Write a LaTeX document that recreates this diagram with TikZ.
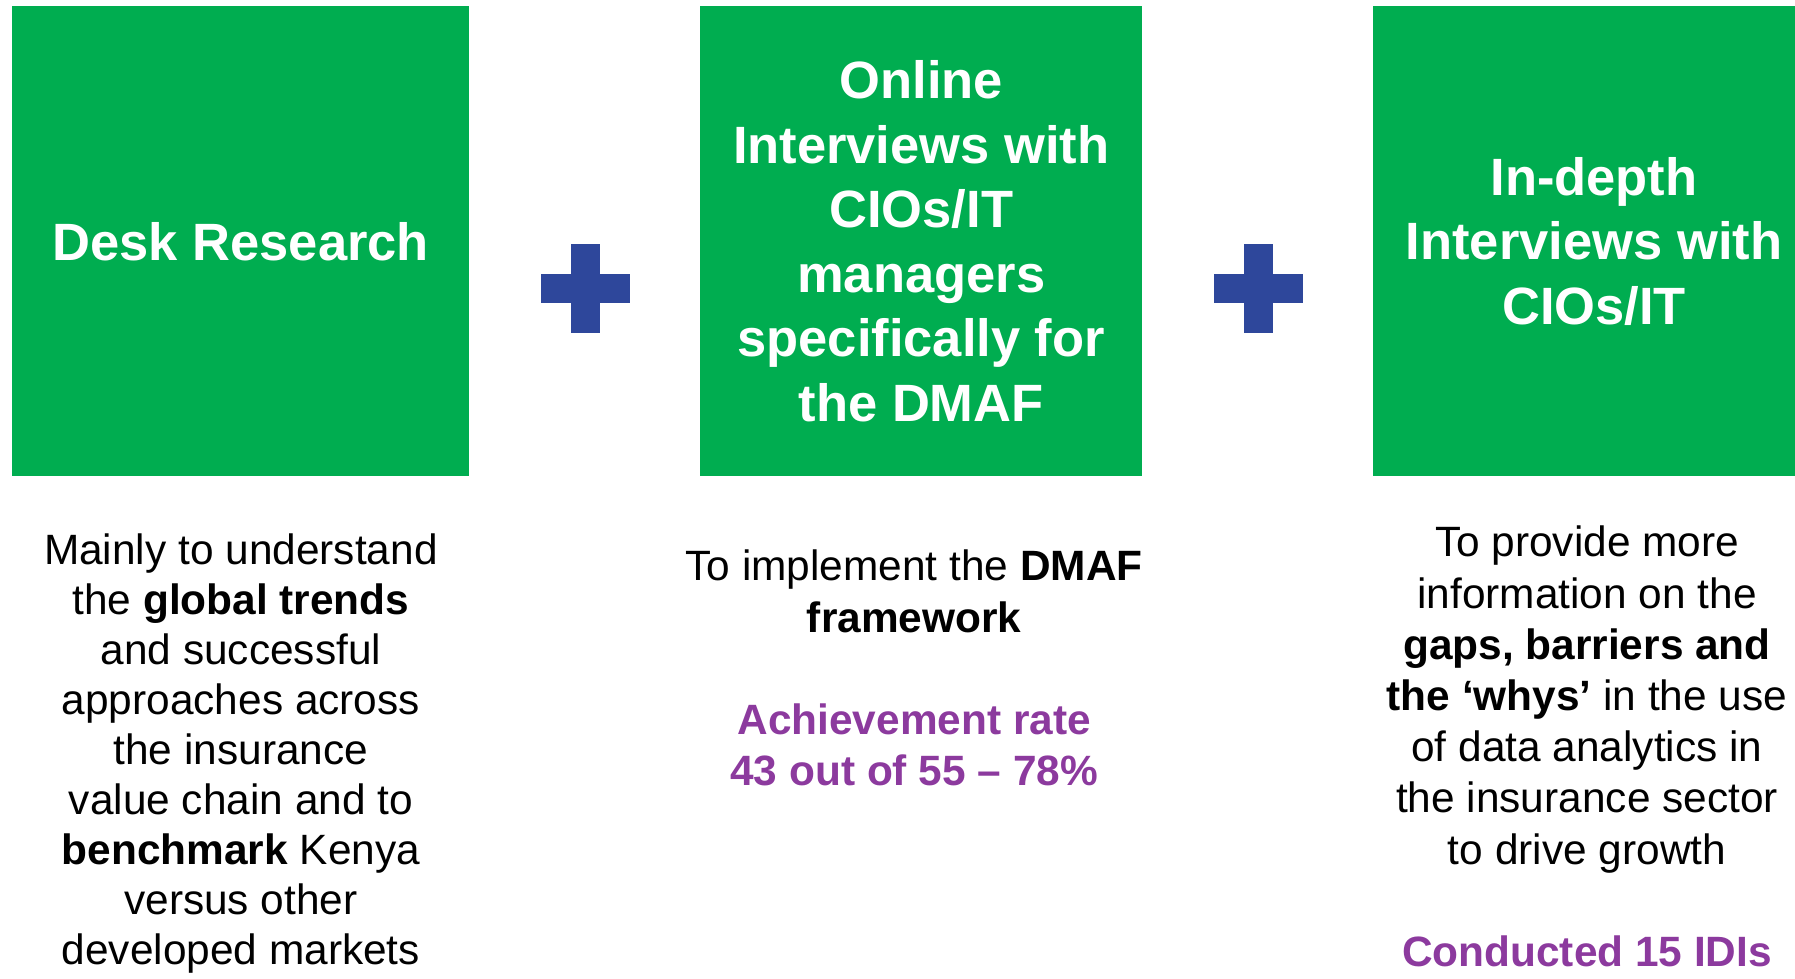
\documentclass[tikz,border=0pt]{standalone}
\usepackage{fontspec}
\setmainfont{Liberation Sans}
\usetikzlibrary{positioning}
\definecolor{boxgreen}{HTML}{00AD50}
\definecolor{plusblue}{HTML}{2E479B}
\definecolor{notepurple}{HTML}{8C3A9E}
\newcommand{\hilite}[1]{\textcolor{notepurple}{\textbf{#1}}}

\begin{document}
\begin{tikzpicture}[x = 0.5pt, y = -0.5pt]
     \tikzset{method/.style = {fill          = boxgreen,
                               text          = white,
                               align         = center,
                               inner sep     = 0pt,
                               minimum width = 221pt,
                               minimum height= 235pt,
                               font          = {\fontsize{26.25}{32.25}\selectfont\bfseries}},
              note/.style   = {align     = center,
                               inner sep = 0pt,
                               font      = {\fontsize{21.2}{25.6}\selectfont}},
              hbar/.style   = {fill=plusblue, inner sep=0pt,
                               minimum width=44.5pt, minimum height=14.5pt},
              vbar/.style   = {fill=plusblue, inner sep=0pt,
                               minimum width=14.5pt, minimum height=44.5pt}}
     \useasboundingbox (0,0) rectangle (1795,979);
     \clip (0,0) rectangle (1795,979);
     \node[method, minimum width=228.5pt, anchor=north west] (desk) at (12,6) {Desk Research};
     \node[method, right=115pt of desk] (online)
          {Online\\ Interviews with\\ CIOs/IT\\ managers\\ specifically for\\ the DMAF};
     \node[method, right=115pt of online] (indepth)
          {In-depth\\ Interviews with\\ CIOs/IT};
     \foreach \from/\name in {desk/plusA, online/plusB}{% les croix entre les cadres
        \node[hbar, right=35.25pt of \from, yshift=-23.75pt] (\name) {};
        \node[vbar] (\name v) at (\name) {};
     }
     \node[note, below=28.5pt of desk, font={\fontsize{21.2}{25}\selectfont}] (deskNote)
          {Mainly to understand\\ the \textbf{global trends}\\ and successful\\
           approaches across\\ the insurance\\ value chain and to\\
           \textbf{benchmark} Kenya\\ versus other\\ developed markets};
     \node[note, below=36.5pt of online, xshift=-3.5pt] (onlineNote)
          {To implement the \textbf{DMAF}\\ \textbf{framework}\\[25.6pt]
           \hilite{Achievement rate}\\ \hilite{43 out of 55 -- 78\%}};
     \node[note, below=24.5pt of indepth, xshift=-3.5pt] (indepthNote)
          {To provide more\\ information on the\\ \textbf{gaps, barriers and}\\
           \textbf{the `whys'} in the use\\ of data analytics in\\
           the insurance sector\\ to drive growth\\[25.6pt]
           \hilite{Conducted 15 IDIs}};
\end{tikzpicture}
\end{document}
